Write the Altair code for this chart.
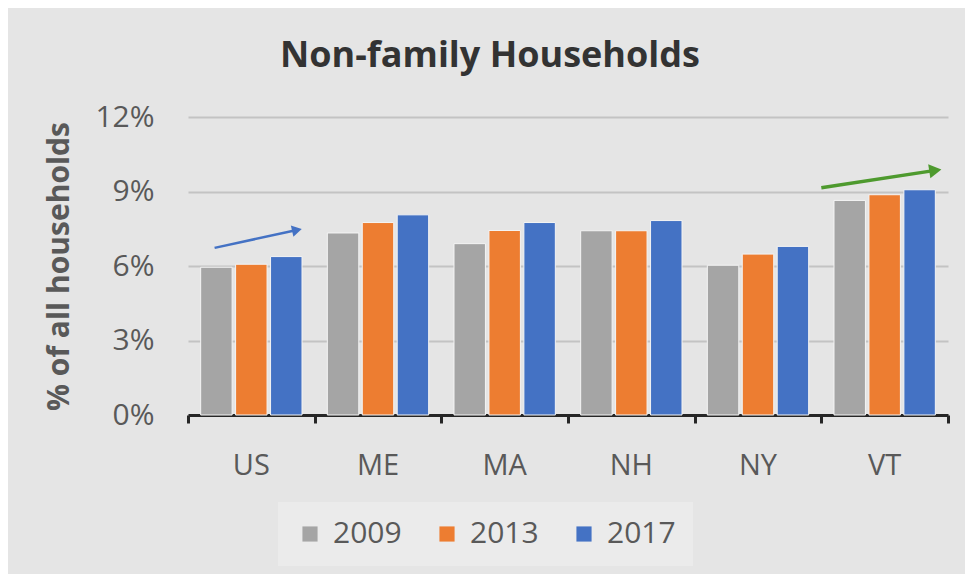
import altair as alt
import pandas as pd

states = ["US", "ME", "MA", "NH", "NY", "VT"]
years = ["2009", "2013", "2017"]
v2009 = [5.95, 7.33, 6.90, 7.42, 6.03, 8.64]
v2013 = [6.07, 7.75, 7.43, 7.42, 6.48, 8.87]
v2017 = [6.38, 8.06, 7.75, 7.83, 6.79, 9.07]
colors = ["#a5a5a5", "#ed7d31", "#4472c4"]

# trend arrows (x in category units: 0 = left edge of US group, 6 = right edge of VT)
arrow_names = ["US trend", "VT trend"]
arrow_x0 = [0.21, 5.00]
arrow_x1 = [0.86, 5.90]
arrow_y0 = [6.73, 9.15]
arrow_y1 = [7.45, 9.85]
tick_positions = [0, 1, 2, 3, 4, 5, 6]

rows = []
for yr, vals in zip(years, [v2009, v2013, v2017]):
    for s, v in zip(states, vals):
        rows.append({"state": s, "year": yr, "value": v})
df = pd.DataFrame(rows)
arrows = pd.DataFrame({"name": arrow_names, "x0": arrow_x0, "x1": arrow_x1,
                       "y0": arrow_y0, "y1": arrow_y1})

FONT = "Open Sans"
TXT = "#595959"
YTITLE = "% of all households"

yscale = alt.Scale(domain=[0, 12], nice=False, zero=True)

bars = alt.Chart(df).mark_bar(stroke="#f4f4f4", strokeWidth=1).encode(
    x=alt.X("state:N", sort=states,
            scale=alt.Scale(paddingInner=0.2, paddingOuter=0.1),
            axis=alt.Axis(title=None, labelAngle=0, domain=False, ticks=False,
                          labelFontSize=29, labelColor=TXT, labelFont=FONT,
                          labelPadding=36)),
    xOffset=alt.XOffset("year:N", sort=years, scale=alt.Scale(paddingInner=0.1)),
    y=alt.Y("value:Q", scale=yscale,
            axis=alt.Axis(values=[0, 3, 6, 9, 12], labelExpr="datum.value + '%'",
                          title=YTITLE, grid=True, gridColor="#c3c3c3", gridWidth=2,
                          domain=False, ticks=False, labelFontSize=30,
                          labelColor=TXT, labelFont=FONT, labelPadding=34,
                          titleFontSize=30, titleFontWeight="bold", titleColor=TXT,
                          titleFont=FONT, titlePadding=20)),
    color=alt.Color("year:N", sort=years,
                    scale=alt.Scale(domain=years, range=colors),
                    legend=alt.Legend(orient="none", legendX=90, legendY=385,
                                      direction="horizontal", title=None,
                                      symbolType="square", symbolSize=230,
                                      symbolStrokeWidth=0,
                                      labelFontSize=30, labelColor=TXT,
                                      labelFont=FONT, labelOffset=8,
                                      columnPadding=30, fillColor="#ebebeb",
                                      padding=17)),
)

xq = alt.Scale(domain=[0, 6], nice=False, zero=False)
xaxis = alt.Axis(values=tick_positions, labels=False, title=None,
                 grid=False, tickSize=8, tickWidth=3, domainWidth=3,
                 domainColor="#262626", tickColor="#262626", orient="bottom")

tick_df = pd.DataFrame({"t": tick_positions})
axis_layer = alt.Chart(tick_df).mark_point(opacity=0).encode(
    x=alt.X("t:Q", scale=xq, axis=xaxis),
    y=alt.Y("t:Q", scale=yscale, title=YTITLE),
)

blue_line = alt.Chart(arrows.iloc[[0]]).mark_rule(color="#4472c4", strokeWidth=2.5).encode(
    x=alt.X("x0:Q", scale=xq, axis=xaxis), x2="x1:Q",
    y=alt.Y("y0:Q", scale=yscale, title=YTITLE), y2="y1:Q")
blue_head = alt.Chart(arrows.iloc[[0]]).mark_point(
    shape="triangle-right", filled=True, color="#4472c4", opacity=1,
    size=130, angle=347).encode(
    x=alt.X("x1:Q", scale=xq, axis=xaxis),
    y=alt.Y("y1:Q", scale=yscale, title=YTITLE))

green_line = alt.Chart(arrows.iloc[[1]]).mark_rule(color="#4e9a2e", strokeWidth=3.5).encode(
    x=alt.X("x0:Q", scale=xq, axis=xaxis), x2="x1:Q",
    y=alt.Y("y0:Q", scale=yscale, title=YTITLE), y2="y1:Q")
green_head = alt.Chart(arrows.iloc[[1]]).mark_point(
    shape="triangle-right", filled=True, color="#4e9a2e", opacity=1,
    size=200, angle=351).encode(
    x=alt.X("x1:Q", scale=xq, axis=xaxis),
    y=alt.Y("y1:Q", scale=yscale, title=YTITLE))

overlay = alt.layer(axis_layer, blue_line, blue_head, green_line, green_head)

chart = alt.layer(bars, overlay).resolve_scale(x="independent").properties(
    width=760, height=298,
    title=alt.TitleParams("Non-family Households", fontSize=36, fontWeight="bold",
                          color="#333333", font=FONT, anchor="middle", dx=-78,
                          offset=27),
    autosize=alt.AutoSizeParams(type="none"),
    padding={"left": 180, "top": 109, "right": 17, "bottom": 159},
    background="#e5e5e5",
).configure_view(stroke=None)

chart.save("out.html", embed_options={"renderer": "svg", "actions": False})
